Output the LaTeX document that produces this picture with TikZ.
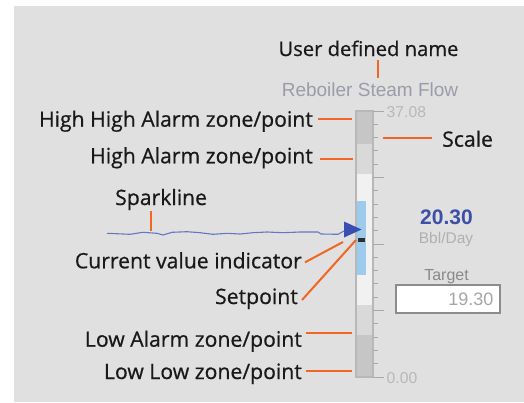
\documentclass[tikz,border=0pt]{standalone}
\usepackage{fontspec}
\setmainfont{Open Sans}
\newfontfamily\lblfont[FakeBold=0.6]{Open Sans}
\newfontfamily\hmi{Liberation Sans}

\definecolor{panel}{HTML}{E0E0E0}
\definecolor{leadc}{HTML}{F26522}
\definecolor{zoneA}{HTML}{C6C6C6}
\definecolor{zoneB}{HTML}{D9D9D9}
\definecolor{zoneW}{HTML}{F1F1F1}
\definecolor{barc}{HTML}{B8B8B8}
\definecolor{tickc}{HTML}{A8A8A8}
\definecolor{pvblue}{HTML}{9DCBEE}
\definecolor{pvtri}{HTML}{3A4DB0}
\definecolor{sparkc}{HTML}{6477C4}
\definecolor{spdark}{HTML}{2E2E2E}
\definecolor{titlec}{HTML}{9A9CAA}
\definecolor{scalec}{HTML}{B8B8B8}
\definecolor{pvtext}{HTML}{3D4FA6}
\definecolor{unitc}{HTML}{B0B0B0}
\definecolor{targetc}{HTML}{8A8A8A}
\definecolor{boxc}{HTML}{8C8C8C}
\definecolor{valc}{HTML}{A6A6A6}

\begin{document}
\begin{tikzpicture}[x=1pt,y=-1pt,
  lbl/.style={font=\lblfont\fontsize{21.2}{24}\selectfont, text=black!90, inner sep=0pt},
  hmitext/.style={inner sep=0pt, font=\hmi\fontsize{#1}{#1}\selectfont},
  lead/.style={draw=leadc, line width=2pt},
  tickm/.style={draw=tickc, line width=1pt},
  sparkpath/.style={draw=sparkc, line width=1.1pt, line join=round}]

\useasboundingbox (0,0) rectangle (524,402);
\fill[panel] (14,6) rectangle (524,402);

% alarm zones of the bar graph
\fill[zoneA] (356,111) rectangle (373,144);
\fill[zoneB] (356,144) rectangle (373,174);
\fill[zoneW] (356,174) rectangle (373,305);
\fill[zoneB] (356,305) rectangle (373,335);
\fill[zoneA] (356,335) rectangle (373,377);
% process value bar
\fill[pvblue] (357,201) rectangle (365.5,275);
\draw[barc, line width=1.8pt] (356,111) rectangle (373,377);

% scale ticks: a long tick every fifth step
\foreach \i in {0,...,20} {
  \pgfmathsetmacro\ty{111+\i*13.3}
  \pgfmathtruncatemacro\m{mod(\i,5)}
  \ifnum\m=0
    \draw[tickm] (373,\ty) -- (383.5,\ty);
  \else
    \draw[tickm] (373,\ty) -- (377.5,\ty);
  \fi
}

% setpoint marker and current value pointer
\fill[spdark] (357.5,237.5) rectangle (365,241.5);
\fill[pvtri] (344,221.5) -- (361.5,229.5) -- (344,237.5) -- cycle;

% trend sparkline
\draw[sparkpath] (107,233.3) -- (130,234.3) -- (143,232.3) -- (157,233.3)
  -- (163,235) -- (172,232.3) -- (187,231.7) -- (200,232.7) -- (213,234.3)
  -- (227,233.3) -- (240,234) -- (253,232.7) -- (267,232) -- (283,232.7)
  -- (300,232) -- (318,232) -- (321,234) -- (338,234.3) -- (344,231);

% faceplate texts
\node[hmitext=19, text=titlec, anchor=base] (title) at (370,96.7) {Reboiler Steam Flow};
\node[hmitext=15.7, text=scalec, anchor=west] (smax) at (386.5,112) {37.08};
\node[hmitext=15.7, text=scalec, anchor=west] (smin) at (386.5,378.5) {0.00};
\node[inner sep=0pt, text=pvtext, font=\hmi\bfseries\fontsize{21}{21}\selectfont] (pv) at (446.5,217.5) {20.30};
\node[hmitext=15.5, text=unitc, anchor=base] (unit) at (446,243.5) {Bbl/Day};
\node[hmitext=16, text=targetc, anchor=base] (tgt) at (446.5,280) {Target};
\node[draw=boxc, fill=white, line width=1.4pt, minimum width=104pt, minimum height=28pt, inner sep=0pt] (tbox) at (448,299) {};
\node[hmitext=18, text=valc, anchor=east] (tval) at ([xshift=-7pt]tbox.east) {19.30};

% callout labels
\node[lbl, anchor=base, font=\lblfont\fontsize{20.2}{24}\selectfont] (udn) at (368.5,56) {User defined name};
\node[lbl, anchor=base east] (hh) at (313,126.7) {High High Alarm zone/point};
\node[lbl, anchor=base east] (hi) at (313,163.3) {High Alarm zone/point};
\node[lbl, anchor=base west] (spk) at (115,205) {Sparkline};
\node[lbl, anchor=base east] (cur) at (302,268.3) {Current value indicator};
\node[lbl, anchor=base east] (sp) at (298,304) {Setpoint};
\node[lbl, anchor=base east] (lo) at (302,346.7) {Low Alarm zone/point};
\node[lbl, anchor=base east] (ll) at (302,379) {Low Low zone/point};
\node[lbl, anchor=base west] (scl) at (442,146.7) {Scale};

% points the callouts refer to
\coordinate (udnT) at (378,78);
\coordinate (hhT) at (352,119);
\coordinate (hiT) at (353,159);
\coordinate (spkT) at (151,231);
\coordinate (curT) at (343,242);
\coordinate (spT) at (356,240);
\coordinate (loT) at (352,333);
\coordinate (llT) at (352,371);
\coordinate (sclT) at (383,138);

% callout leader lines
\draw[lead] (udn.base -| udnT) ++(0,4) -- (udnT);
\draw[lead] ([xshift=5pt]hhT -| hh.east) -- (hhT);
\draw[lead] ([xshift=7pt]hiT -| hi.east) -- (hiT);
\draw[lead] (spkT |- spk.base) ++(0,6) -- (spkT);
\draw[lead] (cur.base east) ++(3,-6) -- (curT);
\draw[lead] (sp.base east) ++(4,-4) -- (spT);
\draw[lead] ([xshift=4pt]loT -| lo.east) -- (loT);
\draw[lead] ([xshift=4pt]llT -| ll.east) -- (llT);
\draw[lead] (sclT) -- ([xshift=-10pt]sclT -| scl.west);
\end{tikzpicture}
\end{document}
